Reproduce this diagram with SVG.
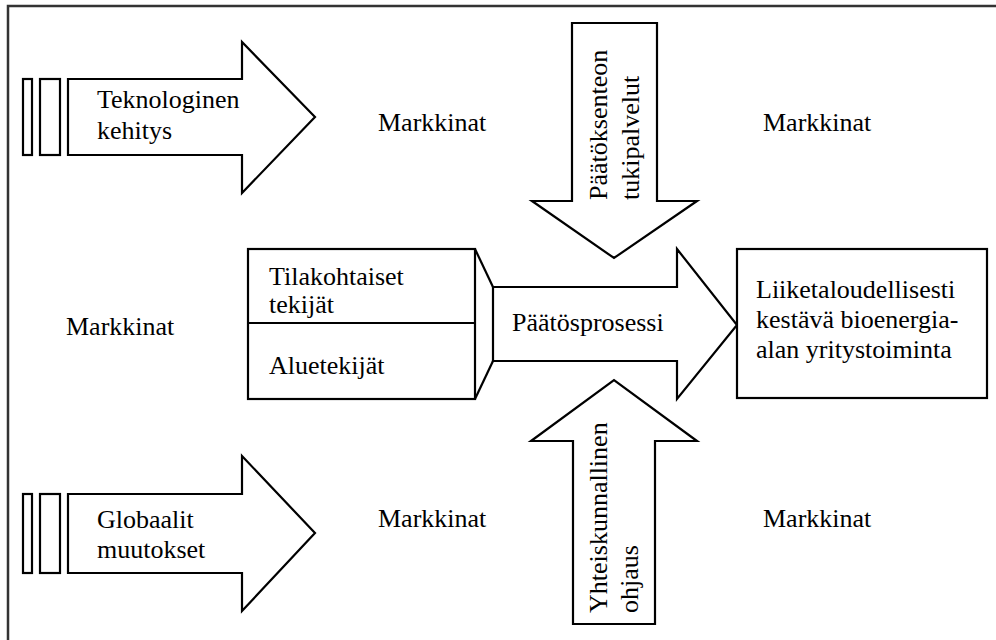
<svg xmlns="http://www.w3.org/2000/svg" width="996" height="640" viewBox="0 0 996 640">
<style>
.s{fill:#fff;stroke:#000;stroke-width:2.2;stroke-linejoin:miter}
.l{fill:none;stroke:#000;stroke-width:2.2}
.t{font-family:"Liberation Serif","Times New Roman","DejaVu Serif",serif;font-size:26px;fill:#000}
</style>
<rect width="996" height="640" fill="#fff"/>
<path d="M8 640 V6 H996" fill="none" stroke="#333" stroke-width="2.5"/>
<g id="tekno">
<rect class="s" x="23" y="79" width="9" height="76"/>
<rect class="s" x="40" y="79" width="20" height="76"/>
<polygon class="s" points="68,79 242,79 242,42 315,117 242,193 242,155 68,155"/>
<text class="t" x="97" y="108">Teknologinen</text>
<text class="t" x="97" y="139">kehitys</text>
</g>
<g id="global">
<rect class="s" x="23" y="494" width="9" height="79"/>
<rect class="s" x="40" y="494" width="20" height="79"/>
<polygon class="s" points="68,494 242,494 242,456 315,533 242,611 242,573 68,573"/>
<text class="t" x="97" y="528">Globaalit</text>
<text class="t" x="97" y="558">muutokset</text>
</g>
<g id="tuki">
<polygon class="s" points="572,23 657,23 657,201 697,201 614,258 532,201 572,201"/>
<text class="t" transform="translate(607,200) rotate(-90)">Päätöksenteon</text>
<text class="t" transform="translate(639,200) rotate(-90)">tukipalvelut</text>
</g>
<g id="ohjaus">
<polygon class="s" points="573,624 655,624 655,441 697,441 614,380 531,441 573,441"/>
<text class="t" transform="translate(607,613) rotate(-90)">Yhteiskunnallinen</text>
<text class="t" transform="translate(638,613) rotate(-90)">ohjaus</text>
</g>
<g id="tekijat">
<rect class="s" x="248" y="249" width="227" height="150"/>
<line class="l" x1="248" y1="323" x2="475" y2="323"/>
<text class="t" x="269" y="285">Tilakohtaiset</text>
<text class="t" x="269" y="313">tekijät</text>
<text class="t" x="269" y="374">Aluetekijät</text>
</g>
<g id="prosessi">
<polygon class="s" points="493,287 677,287 677,249 737,325 677,399 677,361 493,361"/>
<text class="t" x="512" y="331">Päätösprosessi</text>
</g>
<g id="tulos">
<rect class="s" x="737" y="249" width="250" height="149"/>
<text class="t" x="756" y="298">Liiketaloudellisesti</text>
<text class="t" x="756" y="328">kestävä bioenergia-</text>
<text class="t" x="756" y="358">alan yritystoiminta</text>
</g>
<g id="connectors">
<line class="l" x1="475" y1="249" x2="493" y2="287"/>
<line class="l" x1="475" y1="399" x2="493" y2="361"/>
</g>
<g id="markkinat">
<text class="t" x="378" y="131">Markkinat</text>
<text class="t" x="763" y="131">Markkinat</text>
<text class="t" x="66" y="335">Markkinat</text>
<text class="t" x="378" y="527">Markkinat</text>
<text class="t" x="763" y="527">Markkinat</text>
</g>
</svg>
